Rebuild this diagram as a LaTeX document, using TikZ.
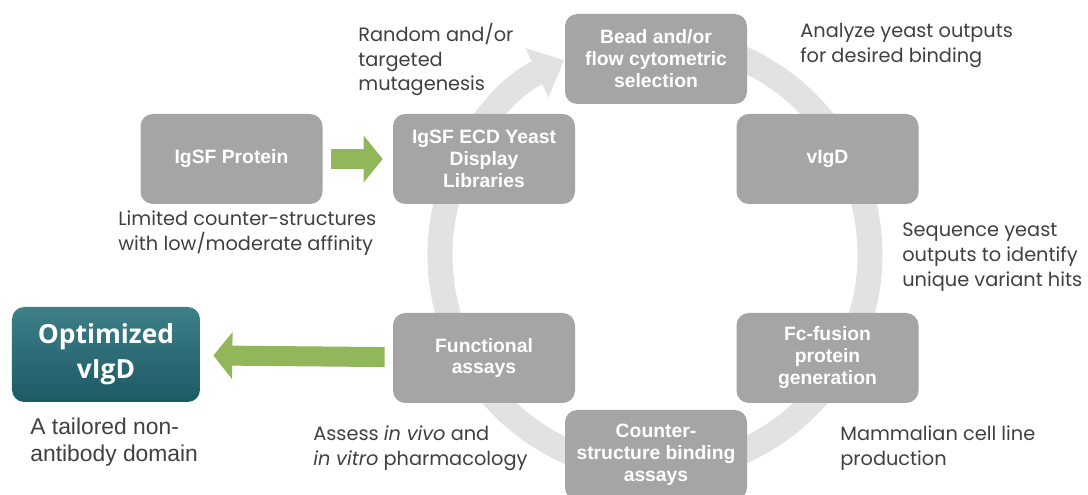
\documentclass[tikz,border=0pt]{standalone}
\usepackage{fontspec}
\setmainfont{Liberation Sans}
\newfontfamily\notefont{Poppins}
\newfontfamily\headfont{Open Sans}
\usepackage{tikz}
\usetikzlibrary{arrows.meta, positioning}
\definecolor{BoxGray}{HTML}{A5A5A5}
\definecolor{RingGray}{HTML}{E2E2E2}
\definecolor{NoteGray}{HTML}{404040}
\definecolor{LeafGreen}{HTML}{92B65A}
\definecolor{TealTop}{HTML}{3E7F88}
\definecolor{TealBottom}{HTML}{1C5A65}
\tikzset{
  stage/.style={fill=BoxGray, rounded corners=7pt, minimum width=3.64cm, minimum height=1.8cm,
    align=center, text=white, font=\bfseries\fontsize{11}{12.5}\selectfont},
  note/.style={anchor=north west, inner sep=0pt, align=left, text=NoteGray,
    font=\notefont\fontsize{11}{14.2}\selectfont},
  fatarrow/.style={draw=LeafGreen, line width=0.4cm, -{Triangle[length=0.38cm, width=0.92cm]}},
}

\begin{document}
\begin{tikzpicture}
        \useasboundingbox (0,0) rectangle (21.76,9.9);
        % selection cycle
        \coordinate (hub) at (13.1,4.8);
        \draw[RingGray, line width=0.5cm, -{Triangle[length=0.6cm, width=1.05cm]}]
            ([shift={(80:4.3)}]hub) arc[start angle=80, end angle=-245, radius=4.3];

        \node[stage] (protein) at (4.63,6.72) {IgSF Protein};
        \node[stage] (library) at (9.68,6.72) {IgSF ECD Yeast\\Display\\Libraries};
        \node[stage] (bead) at (13.12,8.72) {Bead and/or\\flow cytometric\\selection};
        \node[stage] (vigd) at (16.55,6.72) {vIgD};
        \node[stage] (fcfusion) at (16.55,2.74) {Fc-fusion\\protein\\generation};
        \node[stage] (counter) at (13.12,0.8) {Counter-\\structure binding\\assays};
        \node[stage] (functional) at (9.68,2.74) {Functional\\assays};
        \node[rounded corners=7pt, top color=TealTop, bottom color=TealBottom, minimum width=3.76cm,
            minimum height=1.9cm, align=center, text=white, font=\headfont\bfseries\fontsize{15}{20}\selectfont]
            (opt) at (2.12,2.81) {Optimized\\vIgD};

        \draw[fatarrow, shorten <=0.16cm, shorten >=0.2cm] (protein) -- (library);
        \draw[fatarrow, shorten <=0.16cm, shorten >=0.26cm] (functional) -- (opt);

        \node[note] (mutnote) at (7.16,9.45) {Random and/or\\targeted\\mutagenesis};
        \node[note] (bindnote) at (16.0,9.45) {Analyze yeast outputs\\for desired binding};
        \node[note] (seqnote) at (18.04,5.45) {Sequence yeast\\outputs to identify\\unique variant hits};
        \node[note] (prodnote) at (16.8,1.4) {Mammalian cell line\\production};
        \node[note] (assaynote) at (6.26,1.4) {Assess \textit{in vivo} and\\\textit{in vitro} pharmacology};
        \node[note] (affinnote) at (2.36,5.7) {Limited counter-structures\\with low/moderate affinity};
        \node[note, font=\fontsize{13}{15.5}\selectfont] (optnote) at (0.6,1.55) {A tailored non-\\antibody domain};
    \end{tikzpicture}
\end{document}
